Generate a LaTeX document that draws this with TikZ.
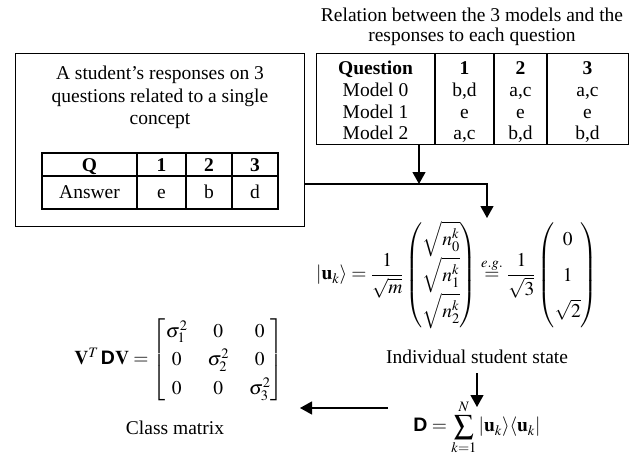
\documentclass[tikz,border=0pt]{standalone}
\usepackage{amsmath}
\usepackage{mathptmx}
\usepackage[no-math]{fontspec}
\setmainfont{Liberation Serif}
\setsansfont{Liberation Sans}
\usetikzlibrary{arrows.meta}
\tikzset{
  txt/.style={inner sep=0pt, font=\fontsize{19.5}{22}\selectfont, align=center},
  cell/.style={txt, anchor=base},
  frame/.style={draw, line width=1.2pt, inner sep=0pt},
  rule/.style={line width=1.3pt},
  arr/.style={line width=1.2pt, -{Triangle[length=12pt,width=13pt]}},
}
\newcommand{\Dsf}{\mbox{\sffamily\bfseries D}}
\begin{document}
\begin{tikzpicture}[x=1pt,y=-1pt]
\useasboundingbox (0,0) rectangle (634,455);
% left box
\node[frame, minimum width=289pt, minimum height=173pt, anchor=north west] (student) at (15,53) {};
\node[txt, font=\fontsize{19.5}{22.5}\selectfont] (stext) at (160,97.5) {A student’s responses on 3\\questions related to a single\\concept};
% inner table
\draw[rule] (42,153) rectangle (278,209);
\draw[rule] (42,176) -- (278,176);
\foreach \x in {137,186,232} \draw[rule] (\x,153) -- (\x,209);
\node[cell] (q) at (89.5,171) {\textbf{Q}};
\node[cell] (q1) at (161.5,171) {\textbf{1}};
\node[cell] (q2) at (209,171) {\textbf{2}};
\node[cell] (q3) at (255,171) {\textbf{3}};
\node[cell] (ans) at (89.5,198.5) {Answer};
\node[cell] (a1) at (161.5,198.5) {e};
\node[cell] (a2) at (209,198.5) {b};
\node[cell] (a3) at (255,198.5) {d};
% right table
\node[txt, font=\fontsize{19.5}{20}\selectfont] (title) at (472,27) {Relation between the 3 models and the\\responses to each question};
\node[frame, line width=1.4pt, minimum width=312pt, minimum height=91pt, anchor=north west] (rel) at (316,53) {};
\foreach \x in {435,494,547} \draw[rule] (\x,53) -- (\x,144);
\node[cell] (r1a) at (375.5,74.5) {\textbf{Question}};
\node[cell] (r1b) at (464.5,74.5) {\textbf{1}};
\node[cell] (r1c) at (520.5,74.5) {\textbf{2}};
\node[cell] (r1d) at (587.5,74.5) {\textbf{3}};
\node[cell] (r2a) at (375.5,96.5) {Model 0};
\node[cell] (r2b) at (464.5,96.5) {b,d};
\node[cell] (r2c) at (520.5,96.5) {a,c};
\node[cell] (r2d) at (587.5,96.5) {a,c};
\node[cell] (r3a) at (375.5,118) {Model 1};
\node[cell] (r3b) at (464.5,118) {e};
\node[cell] (r3c) at (520.5,118) {e};
\node[cell] (r3d) at (587.5,118) {e};
\node[cell] (r4a) at (375.5,139) {Model 2};
\node[cell] (r4b) at (464.5,139) {a,c};
\node[cell] (r4c) at (520.5,139) {b,d};
\node[cell] (r4d) at (587.5,139) {b,d};
% state formula
\node[txt] (ket) at (457,275) {$\displaystyle
  \left|\mathbf{u}_k\right\rangle=\frac{1}{\sqrt{m}}
  \renewcommand{\arraystretch}{1.3}
  \begin{pmatrix}\sqrt{n_0^k}\\ \sqrt{n_1^k}\\ \sqrt{n_2^k}\end{pmatrix}
  \overset{\mathit{e.g.}}{=}\frac{1}{\sqrt{3}}
  \begin{pmatrix}\;0\vphantom{\sqrt{n_0^k}}\;\\ 1\vphantom{\sqrt{n_1^k}}\\ \sqrt{2}\vphantom{\sqrt{n_2^k}}\end{pmatrix}$};
\node[txt] (state) at (477,357) {Individual student state};
% D
\node[txt] (dsum) at (477,427) {$\displaystyle \Dsf=\sum_{k=1}^{N}\left|\mathbf{u}_k\right\rangle\!\left\langle\mathbf{u}_k\right|$};
% class matrix
\node[txt] (vdv) at (179,360) {$\mathbf{V}^{T}\,\Dsf\mathbf{V}=
  \renewcommand{\arraystretch}{1.3}\setlength{\arraycolsep}{10pt}
  \begin{bmatrix}\sigma_1^2 & 0 & 0\\ 0 & \sigma_2^2 & 0\\ 0 & 0 & \sigma_3^2\end{bmatrix}$};
\node[txt] (cls) at (175,428) {Class matrix};
% connectors
\coordinate (j) at (419,184);
\coordinate (k) at (487,218);
\draw[arr] (rel.south -| j) -- (j);
\draw[arr] (student.east |- j) -- (j -| k) -- (k);
\coordinate (d1) at (477,373);
\coordinate (d2) at (477,407);
\draw[arr] (d1) -- (d2);
\coordinate (l1) at (388,408);
\coordinate (l2) at (300,408);
\draw[arr] (l1) -- (l2);
\end{tikzpicture}
\end{document}
